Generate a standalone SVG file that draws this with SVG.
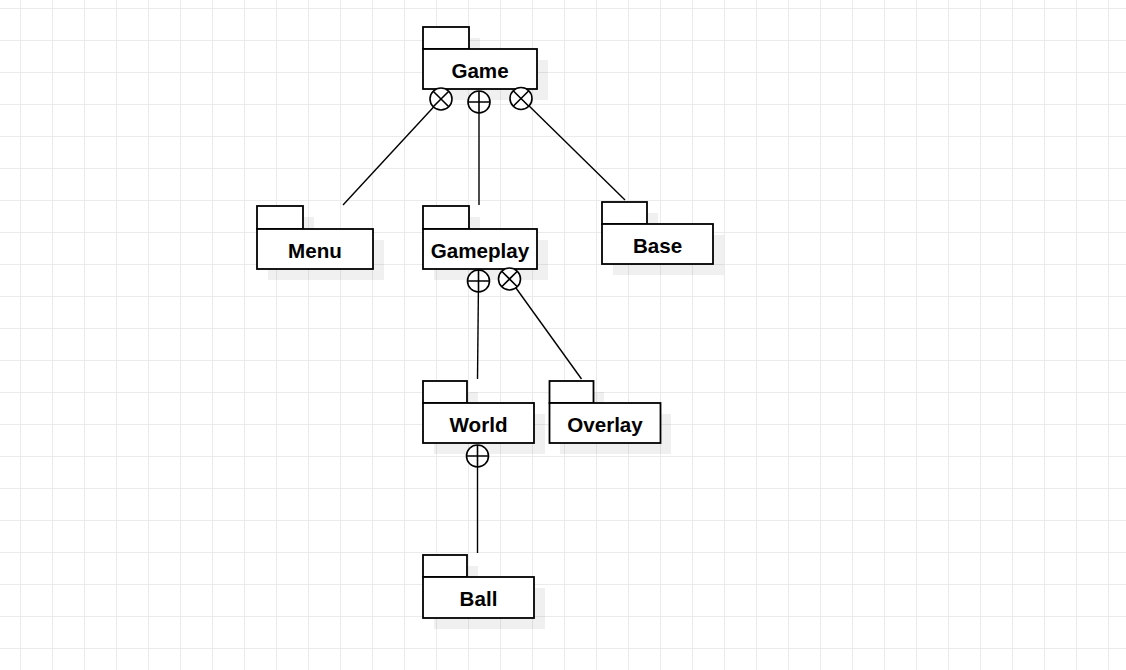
<svg xmlns="http://www.w3.org/2000/svg" width="1126" height="670" viewBox="0 0 1126 670">
<defs>
<pattern id="grid" x="20" y="8" width="32" height="32" patternUnits="userSpaceOnUse">
<path d="M0.5 0 V32 M0 0.5 H32" fill="none" stroke="#ebebeb" stroke-width="1"/>
</pattern>
<g id="xc"><circle r="11" fill="#fff" stroke="#000" stroke-width="1.6"/><path d="M-7.8 -7.8 L7.8 7.8 M7.8 -7.8 L-7.8 7.8" stroke="#000" stroke-width="1.6"/></g>
<g id="pc"><circle r="11" fill="#fff" stroke="#000" stroke-width="1.6"/><path d="M-11 0 H11 M0 -11 V11" stroke="#000" stroke-width="1.6"/></g>
</defs>
<style>
.sh{fill:#000;opacity:0.06}
.bx{fill:#fff;stroke:#000;stroke-width:1.8}
.lb{font-family:"Liberation Sans",Arial,sans-serif;font-weight:bold;font-size:20.6px;text-anchor:middle;fill:#000}
.ln{stroke:#000;stroke-width:1.4;fill:none}
</style>
<rect width="1126" height="670" fill="#fff"/>
<rect width="1126" height="670" fill="url(#grid)"/>

<g id="node-game">
<rect class="sh" x="434" y="38" width="46" height="22"/><rect class="sh" x="434" y="60" width="114" height="40"/>
<rect class="bx" x="423" y="27" width="46" height="22"/><rect class="bx" x="423" y="49" width="114" height="40"/>
<text class="lb" x="480" y="77.5">Game</text>
</g>
<g id="node-menu">
<rect class="sh" x="268" y="217" width="46" height="23"/><rect class="sh" x="268" y="240" width="116" height="40"/>
<rect class="bx" x="257" y="206" width="46" height="23"/><rect class="bx" x="257" y="229" width="116" height="40"/>
<text class="lb" x="315" y="257.5">Menu</text>
</g>
<g id="node-gameplay">
<rect class="sh" x="434" y="217" width="46" height="23"/><rect class="sh" x="434" y="240" width="114" height="40"/>
<rect class="bx" x="423" y="206" width="46" height="23"/><rect class="bx" x="423" y="229" width="114" height="40"/>
<text class="lb" x="480" y="257.5">Gameplay</text>
</g>
<g id="node-base">
<rect class="sh" x="613" y="213" width="45" height="22"/><rect class="sh" x="613" y="235" width="111" height="40"/>
<rect class="bx" x="602" y="202" width="45" height="22"/><rect class="bx" x="602" y="224" width="111" height="40"/>
<text class="lb" x="657.5" y="252.5">Base</text>
</g>
<g id="node-world">
<rect class="sh" x="434" y="392" width="44" height="22"/><rect class="sh" x="434" y="414" width="111" height="40"/>
<rect class="bx" x="423" y="381" width="44" height="22"/><rect class="bx" x="423" y="403" width="111" height="40"/>
<text class="lb" x="478.5" y="431.5">World</text>
</g>
<g id="node-overlay">
<rect class="sh" x="560" y="392" width="44" height="22"/><rect class="sh" x="560" y="414" width="111" height="40"/>
<rect class="bx" x="549.5" y="381" width="44" height="22"/><rect class="bx" x="549.5" y="403" width="111" height="40"/>
<text class="lb" x="605" y="431.5">Overlay</text>
</g>
<g id="node-ball">
<rect class="sh" x="434" y="566" width="44" height="22"/><rect class="sh" x="434" y="588" width="111" height="41"/>
<rect class="bx" x="423" y="555" width="44" height="22"/><rect class="bx" x="423" y="577" width="111" height="41"/>
<text class="lb" x="478.5" y="606">Ball</text>
</g>

<g id="connectors">
<line class="ln" x1="441" y1="99" x2="343" y2="205"/>
<line class="ln" x1="479" y1="102" x2="479" y2="205"/>
<line class="ln" x1="521" y1="98" x2="625" y2="200"/>
<line class="ln" x1="478.5" y1="281" x2="477.5" y2="379"/>
<line class="ln" x1="509.5" y1="279" x2="581.5" y2="379"/>
<line class="ln" x1="477.5" y1="456" x2="477.5" y2="553"/>
<use href="#xc" x="441" y="99"/>
<use href="#pc" x="479" y="102"/>
<use href="#xc" x="521" y="98.5"/>
<use href="#pc" x="478.5" y="281"/>
<use href="#xc" x="509.5" y="279"/>
<use href="#pc" x="477.5" y="456"/>
</g>
</svg>
